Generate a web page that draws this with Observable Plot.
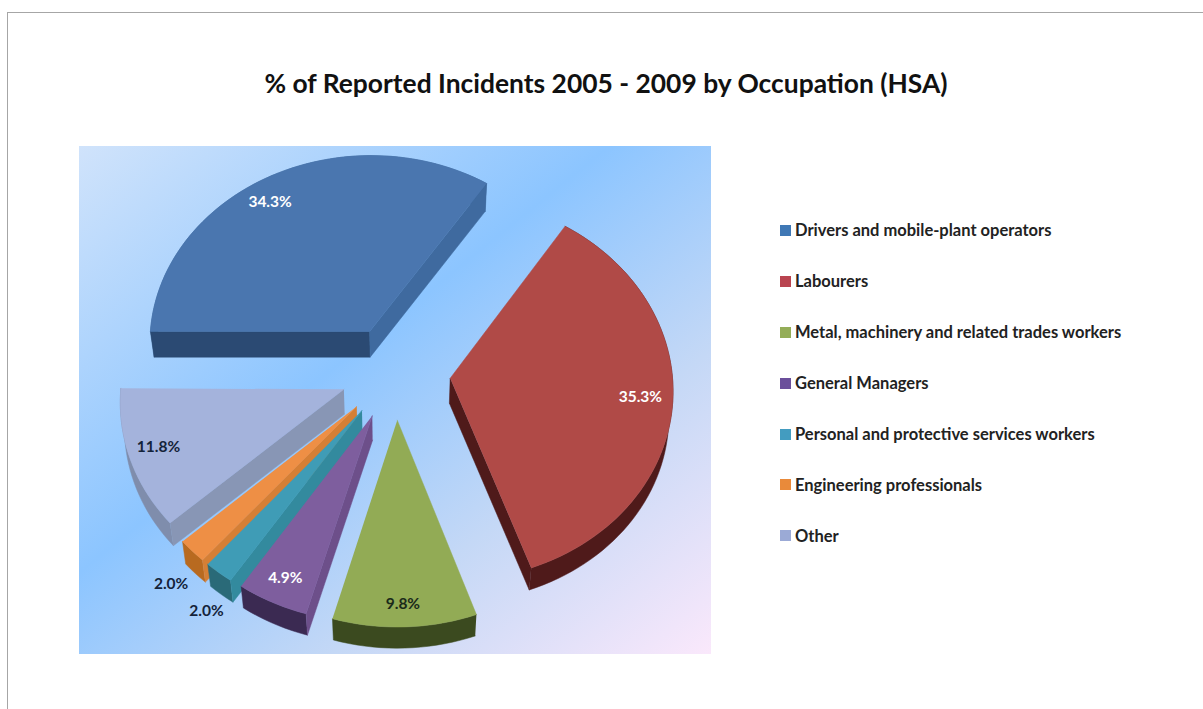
<!DOCTYPE html>
<html><head><meta charset="utf-8">
<script src="https://cdn.jsdelivr.net/npm/d3@7"></script>
<script src="https://cdn.jsdelivr.net/npm/@observablehq/plot@0.6"></script>
<style>
html,body{margin:0;padding:0;background:#fff;}
#page{position:relative;width:1203px;height:709px;overflow:hidden;font-family:Lato,sans-serif;}
#page svg{position:absolute;left:0;top:0;}
#frame{position:absolute;left:7px;top:12px;width:1300px;height:800px;border:1px solid #a6a6a6;box-sizing:border-box;}
#title{position:absolute;left:7px;width:1198px;top:66px;text-align:center;font-weight:700;font-size:26.4px;line-height:34px;color:#111;white-space:nowrap;}
#legend{position:absolute;left:780px;top:205px;font-weight:700;font-size:16.5px;color:#222;white-space:nowrap;}
#legend div{height:50.9px;display:flex;align-items:center;}
#legend i{display:inline-block;width:11px;height:11px;margin-right:4px;}
</style></head><body>
<div id="page">
<div id="frame"></div>
<div id="chart"></div>
<div id="title">% of Reported Incidents 2005 - 2009 by Occupation (HSA)</div>
<div id="legend"></div>
</div>
<script>
const occupations = ["Drivers and mobile-plant operators","Labourers","Metal, machinery and related trades workers","General Managers","Personal and protective services workers","Engineering professionals","Other"];
const shares = [34.3,35.3,9.8,4.9,2.0,2.0,11.8];
const topColors = ["#4a76af","#b04a47","#92ab55","#7e5e9e","#3f9cb6","#ee8f45","#a4b3dc"];
const legendColors = ["#3f78b5","#b94450","#94ad58","#6b4f9b","#439cc0","#e98a3a","#9baad6"];
const startWalls = ["#2b4a73","#4f1a1a","#3b4a1f","#6d4f8a","#338a9e","#d57f35","#8896b5"];
const endWalls = ["#3f6a9f","#4f1a1a","#3b4a1f","#3b2a52","#2a6a78","#b86a20","#7f8dac"];
const arcWalls = ["#3f6a9f","#4f1a1a","#3b4a1f","#3b2a52","#2a6a78","#b86a20","#7f8dac"];
const labelColors = ["#fff","#fff","#1a2a1a","#fff","#14233a","#14233a","#14233a"];
const labelRadius = [0.87,0.855,0.895,0.875,1.17,1.17,0.865];
const labelTurn = [-5,-0.3,0.3,0,-3.5,-2.5,1];
const drawOrder = [0,6,5,4,3,2,1];

// pie geometry in page-sized scale units
const cx = 395, cy = 372, R = 222, kR = 190, burst = 55, persp = 0.055, depth = 25, shrink = 0.985;
const rad = d => d * Math.PI / 180;
function project(X, Y, low) {
  const s = 1 / (1 + persp * Y / R);
  let x = cx + X * s, y = cy - (kR / R) * Y * s;
  if (low) { x = cx + (x - cx) * shrink; y = cy + (y - cy) * shrink + depth; }
  return [x, y];
}
let acc = -90;
const slices = shares.map((v, i) => {
  const a0 = acc, a1 = acc + v * 3.6; acc = a1;
  const mid = (a0 + a1) / 2;
  const ox = burst * Math.sin(rad(mid)), oy = burst * Math.cos(rad(mid));
  const world = (a, r) => [ox + r * Math.sin(rad(a)), oy + r * Math.cos(rad(a))];
  const n = Math.max(2, Math.ceil((a1 - a0) / 2));
  const arc = d3.range(n + 1).map(j => a0 + (a1 - a0) * j / n);
  return {i, a0, a1, mid, ox, oy, world, arc};
});
const pieces = [];
function piece(id, color, pts) { pts.forEach(p => pieces.push({id, color, x: p[0], y: p[1]})); }
const area = q => d3.sum(q, (p, j) => { const r = q[(j + 1) % q.length]; return p[0] * r[1] - r[0] * p[1]; });
drawOrder.forEach(i => {
  const s = slices[i];
  const apex = [s.ox, s.oy];
  const rim = s.arc.map(a => s.world(a, R));
  const up = p => project(p[0], p[1], false), lo = p => project(p[0], p[1], true);
  piece(`s${i}-arc`, arcWalls[i], [...rim.map(up), ...rim.slice().reverse().map(lo)]);
  const first = rim[0], last = rim[rim.length - 1];
  const startQuad = [up(apex), up(first), lo(first), lo(apex)];
  const endQuad = [up(last), up(apex), lo(apex), lo(last)];
  if (area(startQuad) < 0) piece(`s${i}-start`, startWalls[i], startQuad);
  if (area(endQuad) < 0) piece(`s${i}-end`, endWalls[i], endQuad);
  piece(`s${i}-top`, topColors[i], [up(apex), ...rim.map(up)]);
});
const labels = slices.map(s => {
  const w = s.world(s.mid + labelTurn[s.i], R * labelRadius[s.i]);
  const p = project(w[0], w[1], false);
  return {text: shares[s.i].toFixed(1) + "%", x: p[0], y: p[1], color: labelColors[s.i]};
});
const panel = [{x1: 79, x2: 711, y1: 146, y2: 654}];
const gradient = () => {
  const svg = d3.create("svg:defs");
  const g = svg.append("linearGradient").attr("id","bg").attr("x1",0).attr("y1",0).attr("x2",1).attr("y2",1);
  [[0,"#d0e3fb"],[0.42,"#8cc5ff"],[0.7,"#c4d8f6"],[1,"#fae8fb"]].forEach(([o,c]) => g.append("stop").attr("offset",o).attr("stop-color",c));
  return svg.node();
};
const groups = d3.groups(pieces, d => d.id);
const chart = Plot.plot({
  width: 1203, height: 709, margin: 0,
  style: {background: "transparent"},
  x: {domain: [0, 1203], range: [0, 1203], axis: null},
  y: {domain: [0, 709], range: [0, 709], axis: null},
  marks: [
    gradient,
    Plot.rect(panel, {x1: "x1", x2: "x2", y1: "y1", y2: "y2", fill: "url(#bg)"}),
    ...groups.map(([id, pts]) => Plot.line(pts, {x: "x", y: "y", fill: pts[0].color, stroke: pts[0].color, strokeWidth: 0.5})),
    Plot.text(labels, {x: "x", y: "y", text: "text", fill: "color", fontFamily: "Lato, sans-serif", fontWeight: 700, fontSize: 15.5})
  ]
});
document.getElementById("chart").appendChild(chart);
const lg = d3.select("#legend");
occupations.forEach((o, i) => {
  const row = lg.append("div");
  row.append("i").style("background", legendColors[i]);
  row.append("span").text(o);
});
</script>
</body></html>
